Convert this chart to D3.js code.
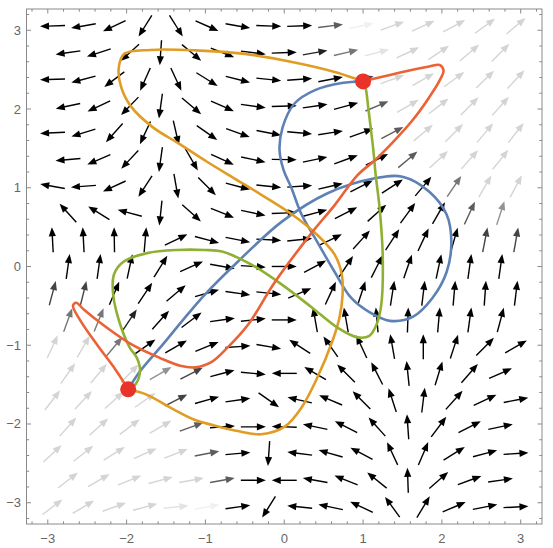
<!DOCTYPE html>
<html>
<head>
<meta charset="utf-8">
<script src="https://cdn.jsdelivr.net/npm/d3@7"></script>
<style>
  body { margin: 0; background: #fff; }
  svg { display: block; }
  .tick-label { font-family: "Liberation Sans", Arial, sans-serif; font-size: 13px; fill: #666; }
</style>
</head>
<body>
<div id="chart"></div>
<script>
// Hexagonal sample grid of the vector field (top row first)
var topRowY = 3.055, rowStep = 0.3394, colStep = 0.392;
var longRowStart = -2.94, shortRowStart = -2.744;

// Arrow directions in degrees (0 = right, 90 = up), one list per row, top row first
var angles = [
  [182,190,205,238,302,336,350,358,2,7,12,20,25,28,36,40],
  [188,198,222,266,320,339,353,2,10,13,15,25,34,40,45],
  [182,195,217,246,295,328,346,354,4,11,15,20,30,36,44,47],
  [192,205,226,262,320,336,352,2,8,15,23,30,38,45,48],
  [183,197,228,245,283,325,340,349,355,9,20,28,40,45,50,52],
  [185,203,227,262,300,335,348,359,12,20,27,40,43,48,51],
  [170,184,205,237,280,315,345,354,4,13,27,33,50,56,60,62],
  [132,148,165,264,318,338,348,2,15,27,42,54,60,65,72],
  [93,93,91,85,26,345,349,357,6,26,48,57,65,74,79,80],
  [82,82,78,58,24,350,356,0,28,56,63,71,78,82,82],
  [75,76,67,56,40,16,352,354,23,65,72,81,83,85,86,83],
  [70,68,56,48,37,8,6,0,100,100,95,88,85,82,75],
  [65,60,50,35,30,22,4,350,147,125,115,100,90,72,45,30],
  [55,50,45,30,27,15,355,180,150,135,117,96,73,49,24],
  [52,47,42,35,27,16,8,325,167,157,135,108,83,48,25,11],
  [48,42,37,30,20,4,0,178,168,153,132,94,53,27,12],
  [43,38,32,24,21,11,5,266,173,164,152,115,67,32,15,4],
  [38,30,22,15,10,10,0,180,170,158,141,92,41,20,8],
  [37,31,20,15,6,10,8,238,174,168,155,126,59,23,11,3]
];

// Arrow shade (0 = black ... 9 = almost white), one string per row, top row first
var shades = [
  "0000000003977777",
  "000000001487777",
  "0000000000277777",
  "000000000037777",
  "0000000000037777",
  "000000000003777",
  "0000000000000477",
  "000000000000035",
  "0000000000000022",
  "000000000000000",
  "2200000000000000",
  "441000000000000",
  "7740000000000000",
  "777520000000000",
  "7777200000000000",
  "777730000000000",
  "7777730000000000",
  "777773000000000",
  "7777890000000000"
];

// Paths between the two marked points
var bluePath = [[-1.98,-1.56],[-1.83,-1.33],[-1.54,-0.99],[-1.26,-0.65],[-1.01,-0.36],[-0.59,0.06],
  [-0.03,0.57],[0.55,0.93],[1.15,1.12],[1.50,1.14],[1.84,0.95],[2.06,0.66],[2.12,0.31],[2.06,-0.07],
  [1.88,-0.40],[1.63,-0.64],[1.34,-0.69],[1.08,-0.58],[0.85,-0.40],[0.64,-0.07],[0.42,0.31],
  [0.22,0.66],[0.09,1.00],[-0.01,1.23],[-0.06,1.48],[-0.02,1.77],[0.13,2.07],[0.39,2.24],
  [0.73,2.33],[1,2.35]];
var orangePath = [[1,2.35],[0.89,2.39],[0.64,2.47],[0.13,2.59],[-0.5,2.70],[-1.13,2.745],[-1.70,2.75],
  [-2.03,2.70],[-2.10,2.52],[-2.07,2.28],[-1.95,2.04],[-1.67,1.77],[-1.32,1.55],
  [-0.98,1.33],[-0.62,1.11],[-0.29,0.91],[0.10,0.66],[0.42,0.40],[0.64,0.15],[0.73,-0.10],
  [0.74,-0.36],[0.70,-0.65],[0.61,-0.95],[0.42,-1.41],[0.22,-1.79],[0.01,-2.03],[-0.29,-2.13],
  [-0.59,-2.09],[-0.92,-2.01],[-1.13,-1.95],[-1.45,-1.79],[-1.74,-1.63],[-1.98,-1.56]];
var greenPath = [[-1.98,-1.56],[-1.89,-1.50],[-1.83,-1.33],[-1.87,-1.16],[-1.96,-1.03],[-2.08,-0.74],
  [-2.17,-0.36],[-2.16,-0.10],[-2.04,0.06],[-1.74,0.17],[-1.36,0.21],[-1.01,0.21],[-0.79,0.19],
  [-0.41,0.02],[-0.03,-0.23],[0.35,-0.52],[0.68,-0.78],[0.93,-0.90],[1.08,-0.88],[1.17,-0.74],
  [1.23,-0.49],[1.25,0.11],[1.21,0.74],[1.16,1.16],[1.13,1.48],[1.07,1.98],[1.03,2.28],[1,2.35]];
var redPath = [[1,2.35],[1.08,2.37],[1.50,2.47],[1.84,2.54],[1.97,2.56],[2.02,2.49],[1.97,2.36],
  [1.84,2.15],[1.63,1.86],[1.37,1.57],[1.15,1.35],[0.93,1.16],[0.64,0.78],[0.35,0.43],
  [-0.12,-0.20],[-0.46,-0.74],[-0.72,-1.03],[-0.92,-1.21],[-1.13,-1.28],[-1.32,-1.26],
  [-1.58,-1.16],[-1.92,-1.00],[-2.30,-0.74],[-2.54,-0.55],[-2.64,-0.46],[-2.68,-0.50],
  [-2.59,-0.68],[-2.37,-1.00],[-2.14,-1.31],[-1.98,-1.56]];
var endPoints = [[1, 2.35], [-1.98, -1.56]];

var tickValues = [-3, -2, -1, 0, 1, 2, 3];

// Chart dimensions
var width = 553, height = 548;
var plot = {left: 26.5, right: 542, top: 9, bottom: 524};
var domain = [-3.27, 3.27];

var x = d3.scaleLinear().domain(domain).range([plot.left, plot.right]);
var y = d3.scaleLinear().domain(domain).range([plot.bottom, plot.top]);

var shadeColors = ["#000000","#222222","#444444","#5c5c5c","#767676","#929292","#ababab","#d4d4d4","#e3e3e3","#f0f0f0"];
var lineColors = {blue: "#5e81b5", orange: "#e19c24", green: "#8fb032", red: "#eb6235"};

var svg = d3.select('#chart').append('svg')
    .attr('width', width)
    .attr('height', height);

svg.append('defs').append('clipPath').attr('id', 'plot-clip')
  .append('rect')
    .attr('x', plot.left).attr('y', plot.top)
    .attr('width', plot.right - plot.left).attr('height', plot.bottom - plot.top);

// Build arrow records from the row lists
var arrows = [];
angles.forEach(function(row, r) {
    var start = row.length === 16 ? longRowStart : shortRowStart;
    row.forEach(function(a, i) {
        arrows.push({
            x: start + i * colStep,
            y: topRowY - r * rowStep,
            angle: a,
            shade: +shades[r][i]
        });
    });
});

// Arrows
var arrowLen = 25, headLen = 9, headHalf = 3.6;
var arrowG = svg.append('g').attr('clip-path', 'url(#plot-clip)');
var arrow = arrowG.selectAll('g.arrow').data(arrows).enter()
  .append('g')
    .attr('class', 'arrow')
    .attr('transform', function(d) {
        return 'translate(' + x(d.x) + ',' + y(d.y) + ') rotate(' + (-d.angle) + ')';
    });
arrow.append('line')
    .attr('x1', -arrowLen / 2).attr('y1', 0)
    .attr('x2', arrowLen / 2 - headLen + 1).attr('y2', 0)
    .attr('stroke', function(d) { return shadeColors[d.shade]; })
    .attr('stroke-width', 1.4);
arrow.append('path')
    .attr('d', 'M' + (arrowLen / 2) + ',0L' + (arrowLen / 2 - headLen) + ',' + (-headHalf) +
               'L' + (arrowLen / 2 - headLen) + ',' + headHalf + 'Z')
    .attr('fill', function(d) { return shadeColors[d.shade]; });

// Paths
var line = d3.line()
    .x(function(d) { return x(d[0]); })
    .y(function(d) { return y(d[1]); })
    .curve(d3.curveCatmullRom.alpha(0.5));

var paths = [
    {pts: bluePath, color: lineColors.blue},
    {pts: orangePath, color: lineColors.orange},
    {pts: greenPath, color: lineColors.green},
    {pts: redPath, color: lineColors.red}
];
svg.append('g').attr('clip-path', 'url(#plot-clip)')
  .selectAll('path').data(paths).enter()
  .append('path')
    .attr('d', function(d) { return line(d.pts); })
    .attr('fill', 'none')
    .attr('stroke', function(d) { return d.color; })
    .attr('stroke-width', 2.6)
    .attr('stroke-linejoin', 'round');

// End points
svg.append('g').selectAll('circle').data(endPoints).enter()
  .append('circle')
    .attr('cx', function(d) { return x(d[0]); })
    .attr('cy', function(d) { return y(d[1]); })
    .attr('r', 8)
    .attr('fill', '#e8322a');

// Frame with inward ticks on all sides
var frameColor = '#8a8a8a';
var minor = d3.range(-3.2, 3.21, 0.2).map(function(v) { return Math.round(v * 10) / 10; });
var frame = svg.append('g');
frame.append('rect')
    .attr('x', plot.left).attr('y', plot.top)
    .attr('width', plot.right - plot.left).attr('height', plot.bottom - plot.top)
    .attr('fill', 'none').attr('stroke', frameColor).attr('stroke-width', 1);

minor.forEach(function(v) {
    var isMajor = tickValues.indexOf(v) >= 0;
    var len = isMajor ? 4.5 : 2.7;
    // bottom and top
    frame.append('line').attr('x1', x(v)).attr('x2', x(v))
        .attr('y1', plot.bottom).attr('y2', plot.bottom - len)
        .attr('stroke', frameColor);
    frame.append('line').attr('x1', x(v)).attr('x2', x(v))
        .attr('y1', plot.top).attr('y2', plot.top + len)
        .attr('stroke', frameColor);
    // left and right
    frame.append('line').attr('y1', y(v)).attr('y2', y(v))
        .attr('x1', plot.left).attr('x2', plot.left + len)
        .attr('stroke', frameColor);
    frame.append('line').attr('y1', y(v)).attr('y2', y(v))
        .attr('x1', plot.right).attr('x2', plot.right - len)
        .attr('stroke', frameColor);
});

function fmt(v) { return v < 0 ? '\u2212' + Math.abs(v) : String(v); }

frame.selectAll('.xl').data(tickValues).enter()
  .append('text')
    .attr('class', 'tick-label')
    .attr('x', function(d) { return x(d); })
    .attr('y', 543)
    .attr('text-anchor', 'middle')
    .text(fmt);

frame.selectAll('.yl').data(tickValues).enter()
  .append('text')
    .attr('class', 'tick-label')
    .attr('x', 21)
    .attr('y', function(d) { return y(d) + 4.5; })
    .attr('text-anchor', 'end')
    .text(fmt);
</script>
</body>
</html>
